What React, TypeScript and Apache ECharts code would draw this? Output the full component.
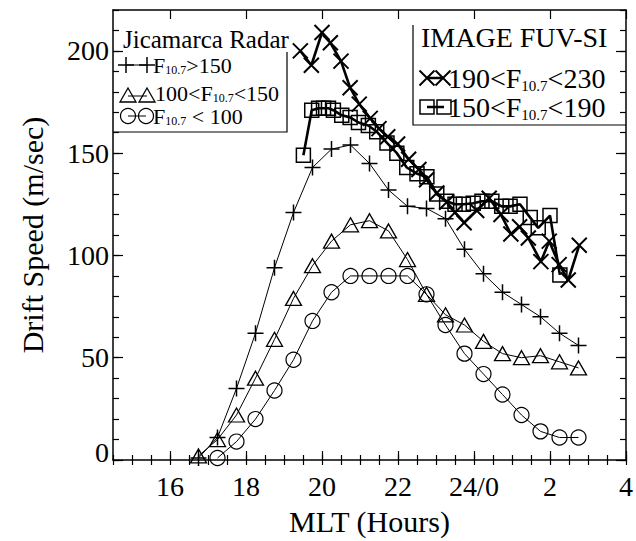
import React, { useEffect, useRef } from 'react';
import * as echarts from 'echarts';

const FONT = '"Liberation Serif", "Times New Roman", Times, serif';

// Axis ticks / labels
const xMajorValues = [16, 18, 20, 22, 24, 26, 28];
const xMajorLabels = ['16', '18', '20', '22', '24/0', '2', '4'];
const yMajorValues = [0, 50, 100, 150, 200];

// Jicamarca Radar
const jicaX = [16.75, 17.25, 17.75, 18.25, 18.75, 19.25, 19.75, 20.25, 20.75, 21.25, 21.75, 22.25, 22.75, 23.25, 23.75, 24.25, 24.75, 25.25, 25.75, 26.25, 26.75];
const jicaHighV = [1, 11, 35, 62, 94, 121, 143, 152, 154, 145, 132, 124, 123, 118, 103, 91, 82, 76, 70, 62, 56];
const jicaMidV = [2, 10, 22, 40, 59, 79, 95, 107, 115, 117, 112, 98, 81, 71, 66, 58, 52, 50, 51, 48, 45];
const jicaLowX = [17.25, 17.75, 18.25, 18.75, 19.25, 19.75, 20.25, 20.75, 21.25, 21.75, 22.25, 22.75, 23.25, 23.75, 24.25, 24.75, 25.25, 25.75, 26.25, 26.75];
const jicaLowV = [1, 9, 20, 34, 49, 68, 82, 90, 90, 90, 90, 81, 66, 52, 42, 32, 22, 14, 11, 11];

// IMAGE FUV-SI
const imageHighX = [19.43, 19.72, 20.0, 20.22, 20.5, 20.74, 20.98, 21.27, 21.5, 21.73, 21.99, 22.28, 22.55, 22.75, 23.02, 23.28, 23.5, 23.74, 24.07, 24.4, 24.71, 24.97, 25.2, 25.43, 25.76, 25.98, 26.24, 26.48, 26.77];
const imageHighV = [200, 193, 209, 204, 195, 182, 174, 167, 162, 158, 154.5, 147, 142, 137, 130.5, 126, 121, 116, 122, 128, 120, 110.5, 114, 108.5, 97, 107, 95.5, 88, 105];
const imageMidX = [19.51, 19.73, 19.91, 20.04, 20.17, 20.3, 20.52, 20.74, 20.96, 21.22, 21.44, 21.71, 21.97, 22.23, 22.5, 22.76, 23.02, 23.28, 23.5, 23.72, 23.98, 24.21, 24.47, 24.73, 24.95, 25.21, 25.48, 25.69, 26.0, 26.26];
const imageMidV = [149, 171, 172, 172, 172, 171, 168.5, 167.5, 165, 163.5, 160.5, 155, 150, 143, 140, 138.5, 130, 126.5, 125, 125, 125.5, 126.5, 126.5, 124, 124, 125, 118.5, 113.5, 119.5, 90.5];

const PLUS = 'path://M0,-1L0,1M-1,0L1,0';
const CROSS = 'path://M-1,-1L1,1M-1,1L1,-1';

const BLACK = '#000';

function pairs(xs: number[], ys: number[]) {
  return xs.map((x, i) => [x, ys[i]]);
}

function lineSeries(name: string, data: number[][], symbol: string, size: any, lw: number, mw: number) {
  return {
    type: 'line',
    name,
    data,
    symbol,
    symbolSize: size,
    showAllSymbol: true,
    xAxisIndex: 0,
    yAxisIndex: 0,
    itemStyle: { color: 'transparent', borderColor: BLACK, borderWidth: mw },
    lineStyle: { color: BLACK, width: lw },
    emphasis: { disabled: true },
    z: 3,
  };
}

// legend helpers
function lineEl(x1: number, y1: number, x2: number, y2: number, w: number) {
  return { type: 'line', shape: { x1, y1, x2, y2 }, style: { stroke: BLACK, lineWidth: w }, z: 10 };
}
function plusEl(cx: number, cy: number, s: number, w: number) {
  return [lineEl(cx - s / 2, cy, cx + s / 2, cy, w), lineEl(cx, cy - s / 2, cx, cy + s / 2, w)];
}
function crossEl(cx: number, cy: number, s: number, w: number) {
  return [lineEl(cx - s / 2, cy - s / 2, cx + s / 2, cy + s / 2, w), lineEl(cx - s / 2, cy + s / 2, cx + s / 2, cy - s / 2, w)];
}
function triEl(cx: number, cy: number, w: number, h: number, lw: number) {
  return {
    type: 'polygon',
    shape: { points: [[cx, cy - h / 2], [cx - w / 2, cy + h / 2], [cx + w / 2, cy + h / 2]] },
    style: { fill: 'none', stroke: BLACK, lineWidth: lw },
    z: 10,
  };
}
function circEl(cx: number, cy: number, r: number, lw: number) {
  return { type: 'circle', shape: { cx, cy, r }, style: { fill: 'none', stroke: BLACK, lineWidth: lw }, z: 10 };
}
function rectEl(cx: number, cy: number, s: number, lw: number) {
  return { type: 'rect', shape: { x: cx - s / 2, y: cy - s / 2, width: s, height: s }, style: { fill: 'none', stroke: BLACK, lineWidth: lw }, z: 10 };
}
function richText(x: number, y: number, text: string, main: number, sub: number, subPad: number, lh: number) {
  return {
    type: 'text',
    x,
    y,
    z: 10,
    style: {
      text,
      fill: BLACK,
      fontSize: main,
      fontFamily: FONT,
      align: 'left',
      verticalAlign: 'middle',
      rich: {
        n: { fontSize: main, fontFamily: FONT, fill: BLACK, lineHeight: lh },
        s: { fontSize: sub, fontFamily: FONT, fill: BLACK, verticalAlign: 'top', padding: [subPad, 0, 0, 0], lineHeight: lh },
      },
    },
  };
}

export default function App() {
  const ref = useRef<HTMLDivElement>(null);
  useEffect(() => {
    document.body.style.margin = '0';
    const chart = echarts.init(ref.current!, null, { renderer: 'svg' });

    const axisLine = { show: true, onZero: false, lineStyle: { color: BLACK, width: 1.5 } };
    const tickStyle = { color: BLACK, width: 1.2 };
    const base = { type: 'value', min: 14.5, max: 28, splitLine: { show: false }, gridIndex: 0 };
    const ybase = { type: 'value', min: 0, max: 220, splitLine: { show: false }, gridIndex: 0 };

    const xAxis = [
      {
        ...base,
        position: 'bottom',
        axisLine,
        axisTick: { show: true, inside: true, length: 9, customValues: xMajorValues, lineStyle: tickStyle },
        axisLabel: {
          show: true,
          customValues: xMajorValues,
          formatter: (v: number) => {
            const i = xMajorValues.indexOf(Math.round(v));
            return i >= 0 ? xMajorLabels[i] : '';
          },
          color: BLACK,
          fontSize: 28,
          fontFamily: FONT,
          margin: 12,
        },
        name: 'MLT (Hours)',
        nameLocation: 'middle',
        nameGap: 46,
        nameTextStyle: { color: BLACK, fontSize: 30, fontFamily: FONT },
      },
      {
        ...base,
        position: 'bottom',
        interval: 0.5,
        axisLine: { show: false },
        axisTick: { show: true, inside: true, length: 5, lineStyle: tickStyle },
        axisLabel: { show: false },
      },
      {
        ...base,
        position: 'top',
        axisLine,
        axisTick: { show: true, inside: true, length: 9, customValues: xMajorValues, lineStyle: tickStyle },
        axisLabel: { show: false },
      },
      {
        ...base,
        position: 'top',
        interval: 0.5,
        axisLine: { show: false },
        axisTick: { show: true, inside: true, length: 5, lineStyle: tickStyle },
        axisLabel: { show: false },
      },
    ];

    const yAxis = [
      {
        ...ybase,
        position: 'left',
        axisLine,
        axisTick: { show: true, inside: true, length: 10, customValues: yMajorValues, lineStyle: tickStyle },
        axisLabel: {
          show: true,
          customValues: yMajorValues,
          formatter: (v: number) => (v === 0 ? '{z|0}' : String(v)),
          color: BLACK,
          fontSize: 28,
          fontFamily: FONT,
          margin: 4,
          rich: { z: { fontSize: 28, fontFamily: FONT, color: BLACK, padding: [0, 0, 16, 0] } },
        },
        name: 'Drift Speed (m/sec)',
        nameLocation: 'middle',
        nameRotate: 90,
        nameGap: 66,
        nameTextStyle: { color: BLACK, fontSize: 30, fontFamily: FONT },
      },
      {
        ...ybase,
        position: 'left',
        interval: 10,
        axisLine: { show: false },
        axisTick: { show: true, inside: true, length: 6, lineStyle: tickStyle },
        axisLabel: { show: false },
      },
      {
        ...ybase,
        position: 'right',
        axisLine,
        axisTick: { show: true, inside: true, length: 10, customValues: yMajorValues, lineStyle: tickStyle },
        axisLabel: { show: false },
      },
      {
        ...ybase,
        position: 'right',
        interval: 10,
        axisLine: { show: false },
        axisTick: { show: true, inside: true, length: 6, lineStyle: tickStyle },
        axisLabel: { show: false },
      },
    ];

    const series = [
      lineSeries('F10.7>150', pairs(jicaX, jicaHighV), PLUS, 16, 1, 1.5),
      lineSeries('100<F10.7<150', pairs(jicaX, jicaMidV), 'triangle', [16, 14], 1, 1.3),
      lineSeries('F10.7 < 100', pairs(jicaLowX, jicaLowV), 'circle', 15, 1, 1.2),
      lineSeries('190<F10.7<230', pairs(imageHighX, imageHighV), CROSS, 15, 2.6, 2),
      lineSeries('150<F10.7<190', pairs(imageMidX, imageMidV), 'rect', 14, 2.6, 1.5),
    ];

    const graphic: any[] = [
      // left legend frame
      { type: 'polyline', shape: { points: [[287, 52], [287, 132], [113, 132]] }, style: { stroke: BLACK, lineWidth: 1.2, fill: 'none' }, z: 10 },
      { type: 'text', x: 123, y: 39, z: 10, style: { text: 'Jicamarca Radar', fill: BLACK, fontSize: 25, fontFamily: FONT, align: 'left', verticalAlign: 'middle' } },
      lineEl(126, 65, 147, 65, 1),
      ...plusEl(126, 65, 16, 1.5),
      ...plusEl(147, 65, 16, 1.5),
      richText(153, 65, '{n|F}{s|10.7}{n|>150}', 22, 12, 9, 20),
      lineEl(128, 96, 147, 96, 1),
      triEl(128, 95, 16, 14, 1.3),
      triEl(147, 95, 16, 14, 1.3),
      richText(155, 93, '{n|100<F}{s|10.7}{n|<150}', 22, 12, 9, 20),
      lineEl(128, 116, 146, 116, 1),
      circEl(128, 116, 7.5, 1.2),
      circEl(146, 116, 7.5, 1.2),
      richText(153, 116, '{n|F}{s|10.7}{n| < 100}', 22, 12, 9, 20),
      // right legend frame
      { type: 'polyline', shape: { points: [[413, 25], [413, 125], [626, 125]] }, style: { stroke: BLACK, lineWidth: 1.2, fill: 'none' }, z: 10 },
      { type: 'text', x: 421, y: 37, z: 10, style: { text: 'IMAGE FUV-SI', fill: BLACK, fontSize: 28, fontFamily: FONT, align: 'left', verticalAlign: 'middle' } },
      lineEl(427, 78, 443, 78, 2.5),
      ...crossEl(427, 78, 15, 2),
      ...crossEl(443, 78, 15, 2),
      richText(448, 78, '{n|190<F}{s|10.7}{n|<230}', 28, 15, 14, 28),
      lineEl(427, 107, 444, 107, 2.5),
      rectEl(427, 107, 14, 1.5),
      rectEl(444, 107, 14, 1.5),
      richText(448, 107, '{n|150<F}{s|10.7}{n|<190}', 28, 15, 14, 28),
    ];

    chart.setOption({
      animation: false,
      backgroundColor: '#fff',
      textStyle: { fontFamily: FONT, color: BLACK },
      grid: { left: 113, right: 10, top: 10, bottom: 76, containLabel: false },
      xAxis,
      yAxis,
      series,
      graphic,
    } as any);

    return () => chart.dispose();
  }, []);
  return <div ref={ref} style={{ width: 636, height: 541 }} />;
}
